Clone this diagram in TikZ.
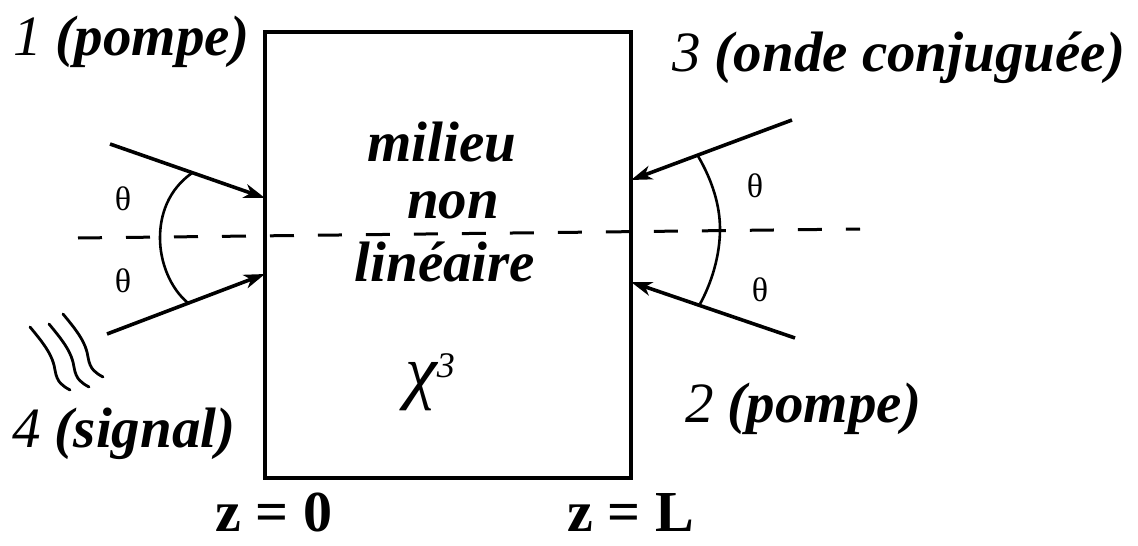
\documentclass[tikz,border=0pt]{standalone}
\usepackage{fontspec}
\setmainfont{Liberation Serif}
\usetikzlibrary{arrows.meta}
\begin{document}
\begin{tikzpicture}[x=1pt,y=-1pt,
  lbl/.style={font=\fontsize{57}{60}\selectfont\bfseries\itshape, inner sep=0pt},
  zlbl/.style={font=\fontsize{58}{60}\selectfont\bfseries, inner sep=0pt},
  chilbl/.style={font=\fontsize{72}{74}\selectfont\itshape, inner sep=0pt},
  thetalbl/.style={font=\fontsize{34}{36}\selectfont, inner sep=0pt},
  ray/.style={line width=3.6pt, -{Stealth[length=21pt,width=14pt,inset=6pt]}},
  anglearc/.style={line width=2.6pt},
  wave/.style={line width=2.8pt, line cap=round},
  axis/.style={line width=3pt, dash pattern=on 24pt off 24pt}
]
\useasboundingbox (0,0) rectangle (1138,546);

% medium
\node[draw, line width=3.2pt, minimum width=366pt, minimum height=446pt, inner sep=0pt] (box) at (448,255) {};

% optical axis
\coordinate (axL) at (78,238);
\coordinate (axR) at (860,229);
\draw[axis] (axL) -- (axR);

% beams
\coordinate (b1s) at (110,144); \coordinate (b1e) at (265,198);
\coordinate (b4s) at (107,334); \coordinate (b4e) at (265,274);
\coordinate (b3s) at (792,120); \coordinate (b3e) at (631,180);
\coordinate (b2s) at (795,338); \coordinate (b2e) at (631,282);
\draw[ray] (b1s) -- (b1e);
\draw[ray] (b4s) -- (b4e);
\draw[ray] (b3s) -- (b3e);
\draw[ray] (b2s) -- (b2e);

% angle arcs
\coordinate (l1) at (192,173); \coordinate (l2) at (160,238); \coordinate (l3) at (188,303);
\coordinate (r1) at (698,156); \coordinate (r2) at (720,229); \coordinate (r3) at (700,304);
\draw[anglearc] (l1) .. controls (168,190) and (160,215) .. (l2) .. controls (160,262) and (170,288) .. (l3);
\draw[anglearc] (r1) .. controls (712,180) and (720,205) .. (r2) .. controls (720,255) and (712,282) .. (r3);

\node[thetalbl] (t1) at (123,199) {θ};
\node[thetalbl] (t4) at (123,281) {θ};
\node[thetalbl] (t3) at (755,186) {θ};
\node[thetalbl] (t2) at (760,290) {θ};

% signal wiggles
\foreach \dx/\dy in {0/0, 19/-3, 33/-13}{
  \draw[wave, shift={(\dx,\dy)}] (30,327) .. controls (45,345) and (53,356) .. (55,370) .. controls (57,383) and (63,386) .. (70,390);
}

% labels
\node[lbl, anchor=base west] (n1) at (13,55) {{\mdseries 1} (pompe)};
\node[lbl, anchor=base west] (n3) at (672,71) {{\mdseries 3} (onde conjuguée)};
\node[lbl, anchor=base west] (n2) at (685,422) {{\mdseries 2} (pompe)};
\node[lbl, anchor=base west] (n4) at (12,447) {{\mdseries 4} (signal)};

\node[lbl, anchor=base] (m1) at (442,161) {milieu};
\node[lbl, anchor=base] (m2) at (453,218) {non};
\node[lbl, anchor=base] (m3) at (445,281) {linéaire};
\node[chilbl, anchor=base west] (chi) at (405,395) {χ\raisebox{18pt}{\fontsize{36}{36}\selectfont 3}};

\node[zlbl, anchor=base west] (z0) at (215,531) {z = 0};
\node[zlbl, anchor=base west] (zL) at (567,531) {z = L};
\end{tikzpicture}
\end{document}
